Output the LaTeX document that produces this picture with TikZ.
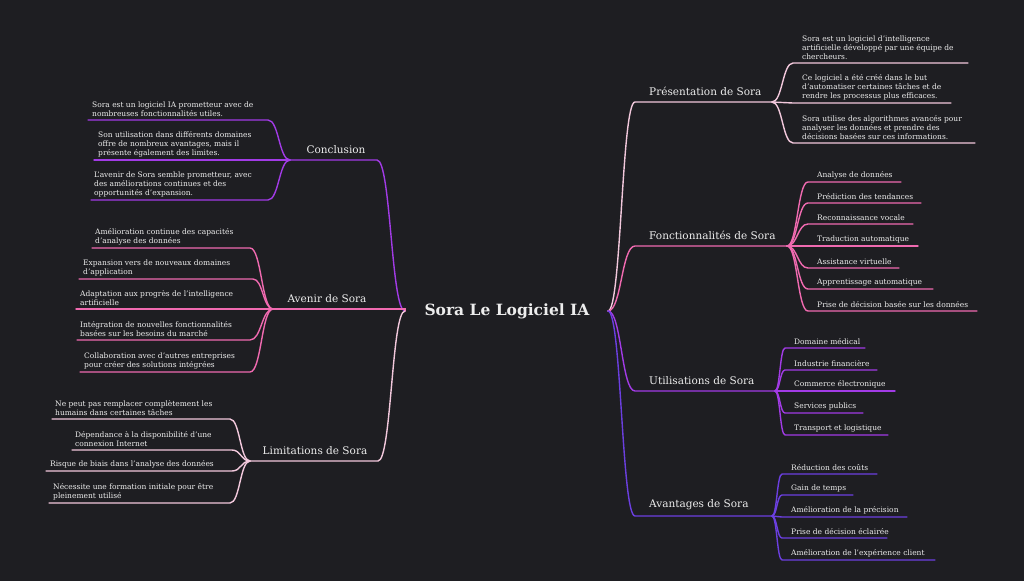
\documentclass[tikz,border=0pt]{standalone}
\usepackage{fontspec}
\setmainfont{DejaVu Serif}
\definecolor{bg}{HTML}{1E1E22}
\definecolor{cLight}{HTML}{F2C8DC}
\definecolor{cPink}{HTML}{F06AB0}
\definecolor{cPurple}{HTML}{A23BE6}
\definecolor{cIndigo}{HTML}{6B3FE0}
\definecolor{tx}{HTML}{EDEDED}
\tikzset{
  leaftext/.style={anchor=south west,inner sep=0pt,align=left,text=tx,font=\fontsize{7.5}{9}\selectfont},
  branchtext/.style={anchor=south,inner sep=0pt,text=tx,font=\fontsize{10.5}{12}\selectfont},
  rbranchtext/.style={anchor=south west,inner sep=0pt,text=tx,font=\fontsize{10.5}{12}\selectfont},
  edge/.style={line width=1.4pt,line cap=round}
}
% \leafR{color}{fanx}{fany}{startx}{y}{endx}{textx}{text}{name}
\newcommand\leafR[9]{%
  \coordinate (#9s) at (#4,#5); \coordinate (#9e) at (#6,#5);
  \draw[edge,#1] (#2,#3) .. controls ({(#2+#4)/2},#3) and ({(#2+#4)/2},#5) .. (#9s) -- (#9e);
  \node[leaftext] (#9) at (#7,{#5-3}) {#8};}
\begin{document}
\begin{tikzpicture}[x=1pt,y=-1pt]
\fill[bg] (0,0) rectangle (1024,581);
\useasboundingbox (0,0) rectangle (1024,581);
\node[text=tx,font=\fontsize{15.5}{18}\selectfont\bfseries,inner sep=0pt] (root) at (507,311) {Sora Le Logiciel IA};
% right branches
\leafR{cLight}{608}{311}{635}{102}{772}{649}{}{pres}
\leafR{cPink}{608}{311}{635}{246}{787}{649}{}{fonc}
\leafR{cPurple}{608}{311}{635}{391}{775}{649}{}{util}
\leafR{cIndigo}{608}{311}{635}{516}{772}{649}{}{avan}
\node[rbranchtext] (presL) at (649,96) {Présentation de Sora};
\node[rbranchtext] (foncL) at (649,240) {Fonctionnalités de Sora};
\node[rbranchtext] (utilL) at (649,385) {Utilisations de Sora};
\node[rbranchtext] (avanL) at (649,510) {Avantages de Sora};
% Présentation children
\leafR{cLight}{772}{102}{793}{63}{968}{802}{Sora est un logiciel d'intelligence\\artificielle développé par une équipe de\\chercheurs.}{p1}
\leafR{cLight}{772}{102}{793}{103}{951}{802}{Ce logiciel a été créé dans le but\\d'automatiser certaines tâches et de\\rendre les processus plus efficaces.}{p2}
\leafR{cLight}{772}{102}{793}{143}{975}{802}{Sora utilise des algorithmes avancés pour\\analyser les données et prendre des\\décisions basées sur ces informations.}{p3}
% Fonctionnalités children
\leafR{cPink}{787}{246}{808}{182}{901}{817}{Analyse de données}{f1}
\leafR{cPink}{787}{246}{808}{203}{921}{817}{Prédiction des tendances}{f2}
\leafR{cPink}{787}{246}{808}{224}{913}{817}{Reconnaissance vocale}{f3}
\leafR{cPink}{787}{246}{808}{246}{918}{817}{Traduction automatique}{f4}
\leafR{cPink}{787}{246}{808}{268}{899}{817}{Assistance virtuelle}{f5}
\leafR{cPink}{787}{246}{808}{289}{933}{817}{Apprentissage automatique}{f6}
\leafR{cPink}{787}{246}{808}{311}{977}{817}{Prise de décision basée sur les données}{f7}
% Utilisations children
\leafR{cPurple}{775}{391}{785}{348}{865}{794}{Domaine médical}{u1}
\leafR{cPurple}{775}{391}{785}{370}{877}{794}{Industrie financière}{u2}
\leafR{cPurple}{775}{391}{785}{391}{895}{794}{Commerce électronique}{u3}
\leafR{cPurple}{775}{391}{785}{413}{863}{794}{Services publics}{u4}
\leafR{cPurple}{775}{391}{785}{435}{888}{794}{Transport et logistique}{u5}
% Avantages children
\leafR{cIndigo}{772}{516}{782}{474}{877}{791}{Réduction des coûts}{a1}
\leafR{cIndigo}{772}{516}{782}{495}{853}{791}{Gain de temps}{a2}
\leafR{cIndigo}{772}{516}{782}{517}{907}{791}{Amélioration de la précision}{a3}
\leafR{cIndigo}{772}{516}{782}{538}{887}{791}{Prise de décision éclairée}{a4}
\leafR{cIndigo}{772}{516}{782}{560}{935}{791}{Amélioration de l'expérience client}{a5}
% left branches
\leafR{cPurple}{405}{311}{377}{160}{287}{287}{}{conc}
\leafR{cPink}{405}{311}{405}{309}{273}{273}{}{aven}
\leafR{cLight}{405}{311}{378}{461}{250}{250}{}{limi}
\node[branchtext] (concL) at (336,154) {Conclusion};
\node[branchtext] (avenL) at (327,303) {Avenir de Sora};
\node[branchtext] (limiL) at (315,455) {Limitations de Sora};
% Conclusion children
\leafR{cPurple}{290}{160}{268}{120}{88}{92}{Sora est un logiciel IA prometteur avec de\\nombreuses fonctionnalités utiles.}{c1}
\leafR{cPurple}{290}{160}{287}{160}{94}{98}{Son utilisation dans différents domaines\\offre de nombreux avantages, mais il\\présente également des limites.}{c2}
\leafR{cPurple}{290}{160}{268}{200}{91}{94}{L'avenir de Sora semble prometteur, avec\\des améliorations continues et des\\opportunités d'expansion.}{c3}
% Avenir children
\leafR{cPink}{273}{309}{250}{248}{92}{95}{Amélioration continue des capacités\\d'analyse des données}{v1}
\leafR{cPink}{273}{309}{253}{279}{79}{83}{Expansion vers de nouveaux domaines\\d'application}{v2}
\leafR{cPink}{273}{309}{273}{309}{76}{80}{Adaptation aux progrès de l'intelligence\\artificielle}{v3}
\leafR{cPink}{273}{309}{250}{340}{77}{80}{Intégration de nouvelles fonctionnalités\\basées sur les besoins du marché}{v4}
\leafR{cPink}{273}{309}{250}{372}{80}{84}{Collaboration avec d'autres entreprises\\pour créer des solutions intégrées}{v5}
% Limitations children
\leafR{cLight}{250}{461}{230}{419}{52}{55}{Ne peut pas remplacer complètement les\\humains dans certaines tâches}{l1}
\leafR{cLight}{250}{461}{232}{450}{72}{75}{Dépendance à la disponibilité d'une\\connexion Internet}{l2}
\leafR{cLight}{250}{461}{232}{471}{46}{50}{Risque de biais dans l'analyse des données}{l3}
\leafR{cLight}{250}{461}{230}{503}{49}{53}{Nécessite une formation initiale pour être\\pleinement utilisé}{l4}
\end{tikzpicture}
\end{document}
